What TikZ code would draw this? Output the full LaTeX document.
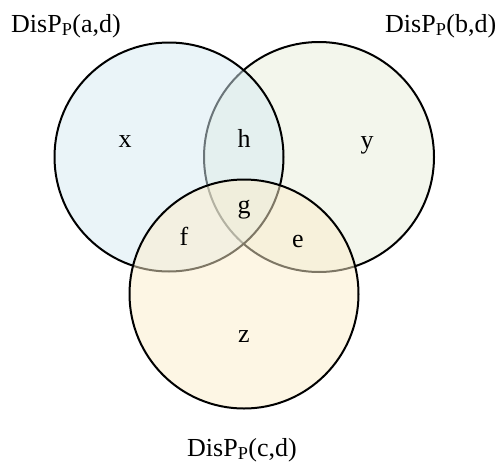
\documentclass[tikz,border=0pt]{standalone}
\usepackage{fontspec}
\setmainfont{Liberation Serif}
\definecolor{cA}{RGB}{215,235,243}
\definecolor{cB}{RGB}{233,239,219}
\definecolor{cC}{RGB}{252,238,203}
\begin{document}
\begin{tikzpicture}[x=1pt,y=-1pt,
  setcircle/.style={draw=black,line width=2pt,fill opacity=0.5},
  lbl/.style={anchor=base,inner sep=0pt,font=\fontsize{26}{30}\selectfont},
  ttl/.style={anchor=base west,inner sep=0pt,font=\fontsize{26}{30}\selectfont}]
\useasboundingbox (0,0) rectangle (500,463);
\fill[white] (0,0) rectangle (500,463);
% circles: right, left, bottom
\draw[setcircle,fill=cB] (319,157) circle (115);
\draw[setcircle,fill=cA] (169,157) circle (114.5);
\draw[setcircle,fill=cC] (244,294) circle (114.5);
% titles
\node[ttl] (ta) at (11,32) {DisP\textsubscript{P}(a,d)};
\node[ttl] (tb) at (385,32) {DisP\textsubscript{P}(b,d)};
\node[ttl] (tc) at (187,456) {DisP\textsubscript{P}(c,d)};
% region labels
\node[lbl] (x) at (125,147) {x};
\node[lbl] (h) at (244,147) {h};
\node[lbl] (y) at (367,148) {y};
\node[lbl] (g) at (244,213) {g};
\node[lbl] (f) at (184,245) {f};
\node[lbl] (e) at (298,247) {e};
\node[lbl] (z) at (244,342) {z};
\end{tikzpicture}
\end{document}
